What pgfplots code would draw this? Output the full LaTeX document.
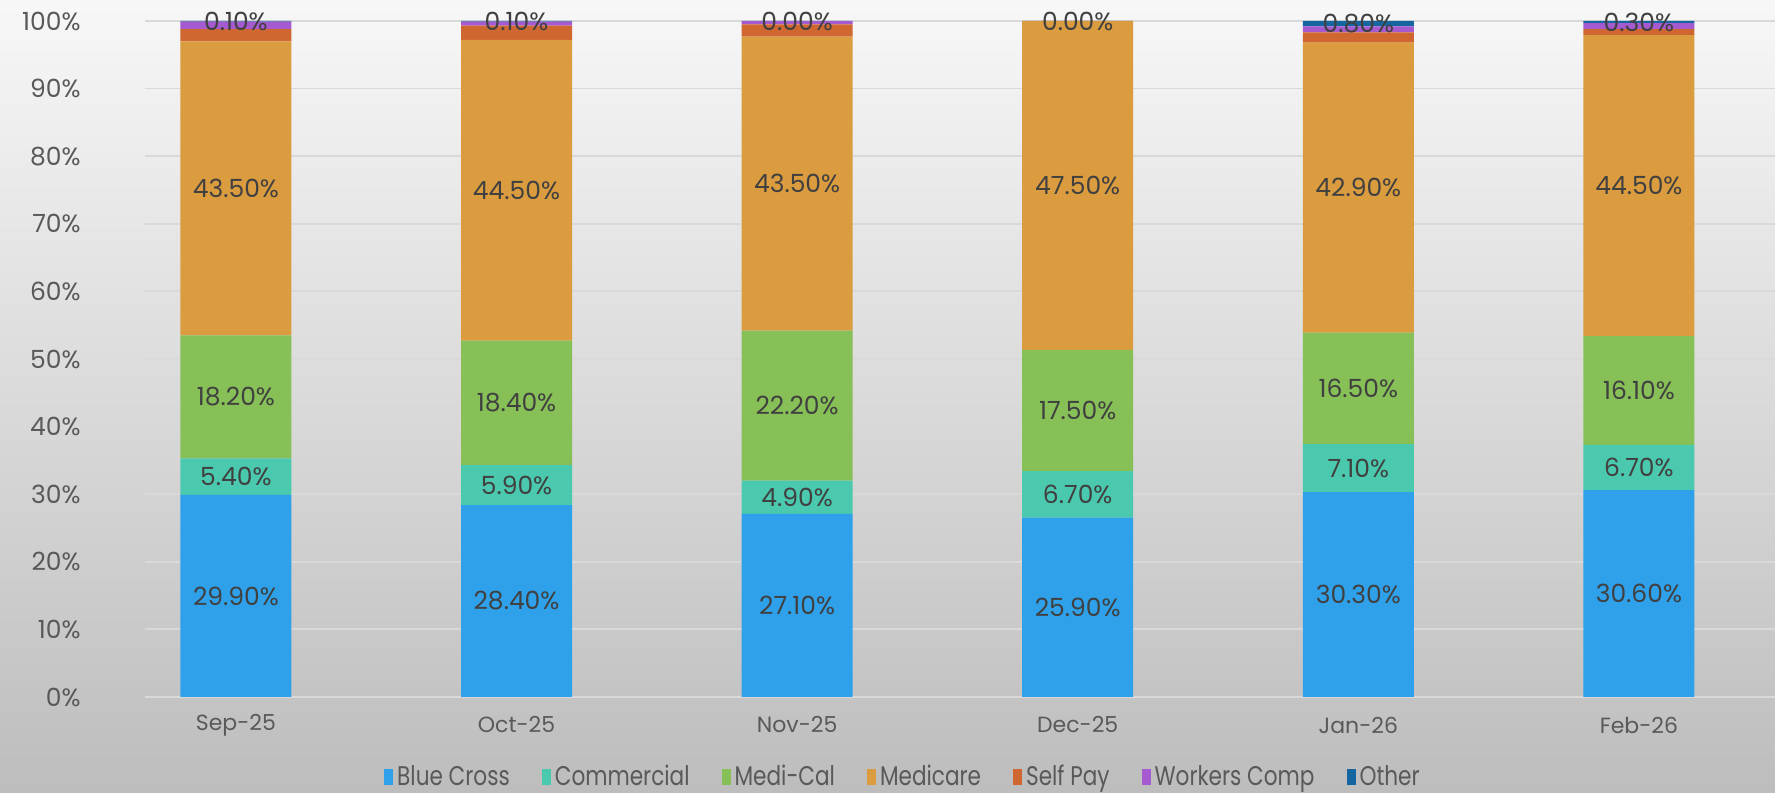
\documentclass[border=0pt]{standalone}
\usepackage{pgfplots}
\pgfplotsset{compat=1.18}
\usepackage{pgfplotstable}
\usepackage{fontspec}
\setmainfont{Poppins}
\newfontfamily\legfont[FakeStretch=0.8]{Poppins}
\usetikzlibrary{backgrounds}
\definecolor{cBC}{HTML}{2EA1EA}
\definecolor{cCom}{HTML}{4BC9AE}
\definecolor{cMcal}{HTML}{86C057}
\definecolor{cMed}{HTML}{DA9C3E}
\definecolor{cSP}{HTML}{D06731}
\definecolor{cWC}{HTML}{A65ACF}
\definecolor{cOth}{HTML}{1566A0}
\definecolor{gridc}{HTML}{D9D9D9}
\definecolor{tickc}{HTML}{595959}
\definecolor{labc}{HTML}{404040}
\pgfplotstableread{
x bc com mcal med sp wc oth
0 29.9 5.4 18.2 43.5 1.8 1.1 0.1
1 28.4 5.9 18.4 44.5 2.1 0.6 0.1
2 27.1 4.9 22.2 43.5 1.8 0.5 0.001
3 25.9 6.7 17.5 47.5 0.0 0.0 0.001
4 30.3 7.1 16.5 42.9 1.5 0.9 0.8
5 30.6 6.7 16.1 44.5 0.9 0.9 0.3
}\data
\newcommand\tot{(\thisrow{bc}+\thisrow{com}+\thisrow{mcal}+\thisrow{med}+\thisrow{sp}+\thisrow{wc}+\thisrow{oth})}
\pgfplotsset{
  lab/.style={
    point meta=explicit,
    nodes near coords={\pgfmathprintnumber[fixed,fixed zerofill,precision=2]{\pgfplotspointmeta}\%},
    every node near coord/.append style={anchor=center, inner sep=0pt,
      font=\fontsize{12.5pt}{14pt}\selectfont, text=labc},
  },
}
\begin{document}
\begin{tikzpicture}
\begin{axis}[
  scale only axis, width=815pt, height=338pt,
  ybar stacked, bar width=55.5pt,
  xmin=-0.324, xmax=5.485, ymin=0, ymax=100,
  clip=false,
  xtick={0,...,5},
  xticklabels={Sep-25,Oct-25,Nov-25,Dec-25,Jan-26,Feb-26},
  ytick={0,10,...,100},
  yticklabel={\pgfmathprintnumber{\tick}\%},
  /pgf/number format/assume math mode=true,
  ymajorgrids, grid style={draw=gridc, line width=0.9pt},
  axis line style={draw=none},
  major tick length=0pt, tick style={draw=none},
  yticklabel style={anchor=east, inner sep=0pt, xshift=-32pt, text=tickc,
    font=\fontsize{12.5pt}{14pt}\selectfont},
  xticklabel style={anchor=center, inner sep=0pt, yshift=-14pt, text=tickc,
    font=\fontsize{11pt}{13pt}\selectfont},
  legend columns=7,
  legend style={at={(0.4656,0)}, anchor=center, yshift=-40pt,
    draw=none, fill=none, font=\legfont\fontsize{13.5pt}{15pt}\selectfont,
    text=tickc, inner sep=0pt,
    /tikz/every even column/.append style={column sep=14pt}},
  legend cell align=left,
  legend image code/.code={\fill[#1] (0pt,-4pt) rectangle (4.5pt,4pt);},
]
\addplot+[fill=cBC, draw=none, lab] table[x=x, y expr=100*\thisrow{bc}/\tot, meta=bc]{\data};
\addplot+[fill=cCom, draw=none, lab] table[x=x, y expr=100*\thisrow{com}/\tot, meta=com]{\data};
\addplot+[fill=cMcal, draw=none, lab] table[x=x, y expr=100*\thisrow{mcal}/\tot, meta=mcal]{\data};
\addplot+[fill=cMed, draw=none, lab] table[x=x, y expr=100*\thisrow{med}/\tot, meta=med]{\data};
\addplot+[fill=cSP, draw=none] table[x=x, y expr=100*\thisrow{sp}/\tot]{\data};
\addplot+[fill=cWC, draw=none] table[x=x, y expr=100*\thisrow{wc}/\tot]{\data};
\addplot+[fill=cOth, draw=none, lab] table[x=x, y expr=100*\thisrow{oth}/\tot, meta=oth]{\data};
\legend{Blue Cross,Commercial,Medi-Cal,Medicare,Self Pay,Workers Comp,Other}
\coordinate (bl) at (rel axis cs:0,0);
\coordinate (tr) at (rel axis cs:1,1);
\end{axis}
\begin{scope}[on background layer]
\shade[top color=white!97!black, bottom color=white!74!black]
  ([xshift=-72.5pt,yshift=-48pt]bl) rectangle ([yshift=10.5pt]tr);
\end{scope}
\pgfresetboundingbox
\path[use as bounding box] ([xshift=-72.5pt,yshift=-48pt]bl) rectangle ([yshift=10.5pt]tr);
\end{tikzpicture}
\end{document}
